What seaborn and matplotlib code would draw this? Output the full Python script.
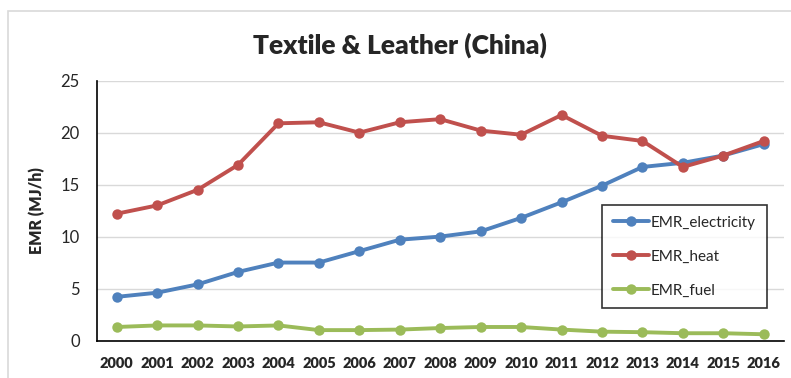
import matplotlib
matplotlib.use("Agg")
import matplotlib.pyplot as plt
import seaborn as sns
import pandas as pd
from matplotlib.patches import Rectangle

years = list(range(2000, 2017))
emr_electricity = [4.2, 4.6, 5.4, 6.6, 7.5, 7.5, 8.6, 9.7, 10.0, 10.5, 11.8, 13.3, 14.9, 16.7, 17.1, 17.8, 18.9]
emr_heat = [12.2, 13.0, 14.5, 16.9, 20.9, 21.0, 20.0, 21.0, 21.3, 20.2, 19.8, 21.7, 19.7, 19.2, 16.7, 17.8, 19.2]
emr_fuel = [1.3, 1.45, 1.45, 1.35, 1.45, 1.0, 1.0, 1.05, 1.2, 1.3, 1.3, 1.05, 0.85, 0.8, 0.7, 0.7, 0.6]
series_names = ["EMR_electricity", "EMR_heat", "EMR_fuel"]
colors = ["#4F81BD", "#C0504D", "#9BBB59"]
y_ticks = [0, 5, 10, 15, 20, 25]

df = pd.concat([
    pd.DataFrame({"year": years, "value": vals, "series": name})
    for name, vals in zip(series_names, [emr_electricity, emr_heat, emr_fuel])
])

sns.set_theme(style="white")
plt.rcParams["font.family"] = ["Lato", "DejaVu Sans"]

fig = plt.figure(figsize=(7.91, 3.78), dpi=100)
fig.patches.append(Rectangle((8 / 791, -0.1), 1.2, 1 - 11 / 378 + 0.1,
                             transform=fig.transFigure, fill=False,
                             edgecolor="#D9D9D9", linewidth=1.2, zorder=0))
ax = fig.add_axes([96.5 / 791, 1 - 340.5 / 378, (784 - 96.5) / 791, (340.5 - 80.7) / 378])

sns.lineplot(data=df, x="year", y="value", hue="series", hue_order=series_names,
             palette=colors, marker="o", markersize=7.5, markeredgewidth=0,
             linewidth=2.8, ax=ax)

ax.set_xlim(1999.5, 2016.5)
ax.set_ylim(0, 25)
ax.set_xticks(years)
ax.set_xticklabels([str(y) for y in years], fontweight="heavy", fontsize=10.5)
ax.set_yticks(y_ticks)
ax.set_yticklabels([str(v) for v in y_ticks], fontsize=12)
ax.yaxis.grid(True, color="#D9D9D9", linewidth=1)
ax.set_axisbelow(True)
for side in ["top", "right"]:
    ax.spines[side].set_visible(False)
for side in ["left", "bottom"]:
    ax.spines[side].set_color("black")
    ax.spines[side].set_linewidth(1.2)
ax.tick_params(axis="both", which="both", direction="out", length=4, width=1, color="black")
ax.tick_params(axis="y", pad=8)
ax.tick_params(axis="x", pad=8)
ax.set_xlabel("")
ax.set_ylabel("EMR (MJ/h)", fontweight="heavy", fontsize=11.5, labelpad=11)

fig.text(400 / 791, 1 - 45 / 378, "Textile & Leather (China)", ha="center", va="center",
         fontsize=19, fontweight="heavy")

leg = ax.legend(loc="upper left", bbox_to_anchor=(602 / 791, 1 - 205 / 378),
                bbox_transform=fig.transFigure, frameon=True, fancybox=False,
                fontsize=11, handlelength=2.4, handletextpad=0.1, labelspacing=1.3,
                borderpad=0.7, borderaxespad=0)
leg.get_frame().set_edgecolor("black")
leg.get_frame().set_linewidth(1.2)

fig.savefig("out.png", dpi=100)
